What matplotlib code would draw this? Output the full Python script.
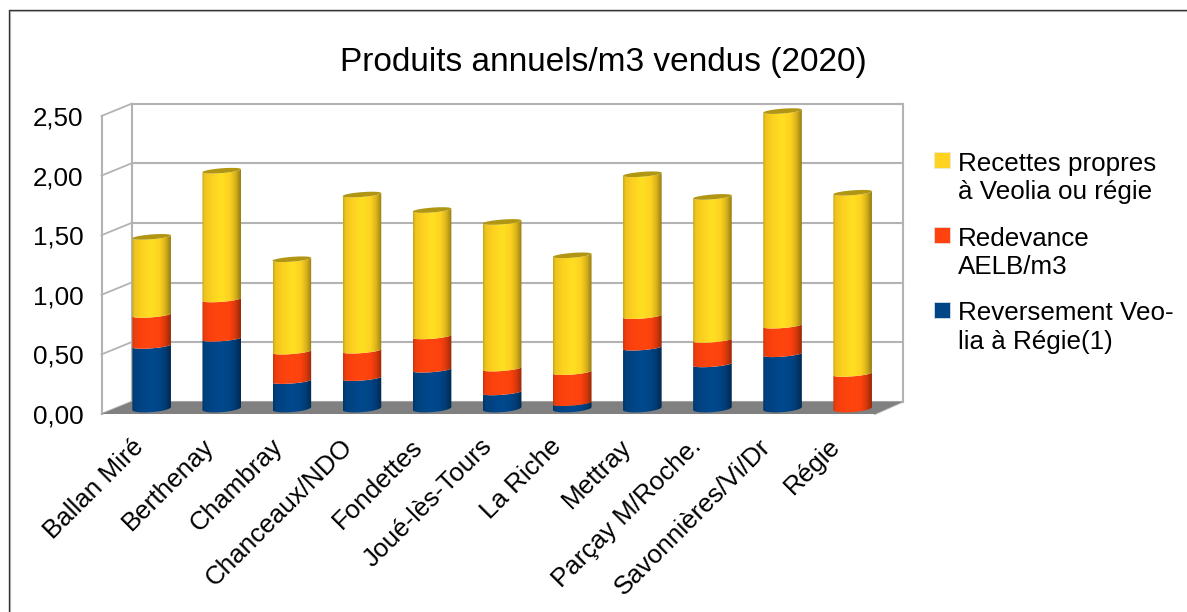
import numpy as np
import matplotlib
matplotlib.use("Agg")
import matplotlib.pyplot as plt
from matplotlib.colors import LinearSegmentedColormap
from matplotlib.patches import Rectangle, Polygon
from matplotlib.transforms import Affine2D

plt.rcParams['font.family'] = ['Liberation Sans', 'DejaVu Sans']

title = "Produits annuels/m3 vendus (2020)"
categories = ["Ballan Miré", "Berthenay", "Chambray", "Chanceaux/NDO", "Fondettes",
              "Joué-lès-Tours", "La Riche", "Mettray", "Parçay M/Roche.",
              "Savonnières/Vi/Dr", "Régie"]
reversement = [0.525, 0.585, 0.23, 0.255, 0.325, 0.135, 0.045, 0.51, 0.37, 0.455, 0.00]
redevance = [0.26, 0.33, 0.247, 0.23, 0.28, 0.20, 0.26, 0.265, 0.205, 0.24, 0.29]
recettes = [0.655, 1.08, 0.775, 1.31, 1.06, 1.23, 0.98, 1.19, 1.20, 1.80, 1.52]
y_ticks = [0.0, 0.5, 1.0, 1.5, 2.0, 2.5]
y_labels = ["0,00", "0,50", "1,00", "1,50", "2,00", "2,50"]
legend_entries = [("Recettes propres\nà Veolia ou régie", "#ffd320"),
                  ("Redevance\nAELB/m3", "#ff420e"),
                  ("Reversement Veo-\nlia à Régie(1)", "#004586")]

W, H = 1187, 612
FS = 18.7
fig = plt.figure(figsize=(W / 100, H / 100), dpi=100)
fig.patch.set_facecolor("white")

ov = fig.add_axes([0, 0, 1, 1], zorder=0)
ov.set_xlim(0, W); ov.set_ylim(H, 0); ov.axis("off")
ov.plot([9.8, 9.8, W + 2], [H + 2, 10.8, 10.8], color="#c8c8c8", lw=0.8, clip_on=False)
ov.plot([8.5, 8.5, W + 2], [H + 2, 9.5, 9.5], color="#333333", lw=1.0, clip_on=False)

X0, X1, Y0, Y1 = 116.6, 887.7, 414.0, 116.0
ax = fig.add_axes([X0 / W, 1 - Y0 / H, (X1 - X0) / W, (Y0 - Y1) / H], zorder=1)
ax.patch.set_alpha(0)
n = len(categories)
ax.set_xlim(-0.5, n - 0.5)
ax.set_ylim(0, 2.5)
for s in ax.spines.values():
    s.set_visible(False)
ax.set_yticks(y_ticks, y_labels, fontsize=FS)
ax.set_xticks(range(n), categories, fontsize=FS, rotation=45, ha="right", rotation_mode="anchor")
ax.tick_params(axis="y", length=0, pad=24)
ax.tick_params(axis="x", length=0, pad=16)
fig.canvas.draw()
for i, lab in enumerate(ax.get_xticklabels()):
    lab.set_transform(lab.get_transform() + Affine2D().translate(-20 - 0.45 * i, 2))

back_t = ax.transData + Affine2D().translate(15.0, 12.3)
front_left = ax.transData + Affine2D().translate(-15.1, 0)
mid_t = ax.transData + Affine2D().translate(0, 5.5)

grid = "#b3b3b3"
xl, xr = -0.5, n - 0.5
floor = Polygon([(xl - 15.1 / 70.1, 0), (xr - 12.7 / 70.1, 0), (xr + 15 / 70.1, 12.3 / 119.2),
                 (xl + 15 / 70.1, 12.3 / 119.2)],
                closed=True, transform=ax.transData, facecolor="#808080", edgecolor="none", zorder=1,
                clip_on=False)
ax.add_patch(floor)
for v in y_ticks:
    ax.plot([xl, xr], [v, v], transform=back_t, color=grid, lw=1.5, zorder=0.8, clip_on=False)
    ax.plot([xl - 15.1 / 70.1, xl + 15 / 70.1], [v, v + 12.3 / 119.2], transform=ax.transData,
            color=grid, lw=1.3, zorder=0.8, clip_on=False)
ax.plot([xr - 12.7 / 70.1, xr + 15 / 70.1], [0, 12.3 / 119.2], transform=ax.transData, color=grid, lw=1.3,
        zorder=0.8, clip_on=False)
ax.plot([xl, xl], [0, 2.5], transform=back_t, color=grid, lw=1.5, zorder=0.8, clip_on=False)
ax.plot([xr, xr], [0, 2.5], transform=back_t, color=grid, lw=1.5, zorder=0.8, clip_on=False)
ax.plot([xl, xl], [0, 2.5], transform=front_left, color=grid, lw=1.5, zorder=0.8, clip_on=False)


def shade(c):
    c = np.array(matplotlib.colors.to_rgb(c))
    return LinearSegmentedColormap.from_list(
        "s", [(0, c * 0.78), (0.06, c * 0.93), (0.25, c * 0.99), (0.5, np.minimum(c * 1.06, 1)),
              (0.72, c * 0.99), (0.86, c * 0.85), (0.96, c * 0.66), (1, c * 0.6)])


grad = np.linspace(0, 1, 128).reshape(1, -1)
HW = 19.3 / 70.1
ER = 2.4 / 119.2
ER_BASE = 3.6 / 119.2
TILT = 1.5 / 119.2
th = np.linspace(0, np.pi, 40)


def arc(xc, v, er):
    u = -np.cos(th)
    return xc + HW * u, v - er * np.sin(th) + TILT * u


def draw_seg(xc, v0, v1, color, z):
    bx, by = arc(xc, v0, ER_BASE if v0 == 0 else ER)
    tx, ty = arc(xc, v1, ER)
    verts = list(zip(bx, by)) + list(zip(tx[::-1], ty[::-1]))
    im = ax.imshow(grad, extent=(xc - HW, xc + HW, v0 - 0.1, v1 + 0.1), cmap=shade(color), vmin=0, vmax=1,
                   aspect="auto", transform=mid_t, zorder=z, interpolation="bilinear")
    clip = Polygon(verts, closed=True, transform=mid_t, facecolor="none", edgecolor="none")
    ax.add_patch(clip)
    im.set_clip_path(clip)
    im.set_clip_box(fig.bbox)


for i in range(n):
    z = 2 + i * 0.01
    if reversement[i] > 0:
        draw_seg(i, 0.0, reversement[i], "#004586", z)
    b = reversement[i]
    draw_seg(i, b, b + redevance[i], "#ff420e", z + 0.002)
    b += redevance[i]
    t = b + recettes[i]
    draw_seg(i, b, t, "#ffd320", z + 0.004)
    a_ = np.linspace(0, 2 * np.pi, 60)
    u, w = np.cos(a_), np.sin(a_)
    cap = Polygon(list(zip(i + HW * u, t + ER * w + TILT * u)), closed=True, transform=mid_t,
                  facecolor="#b09612", edgecolor="none", zorder=z + 0.006, clip_on=False)
    ax.add_patch(cap)
ax.set_xlim(-0.5, n - 0.5)
ax.set_ylim(0, 2.5)

ov.text(603, 63, title, fontsize=24, ha="center", va="center", color="black")
ly = [152, 227, 302]
for (txt, col), y in zip(legend_entries, ly):
    ov.add_patch(Rectangle((934, y), 16, 16, facecolor=col, edgecolor="#e8e8e8", lw=0.5))
    a, b2 = txt.split("\n")
    ov.text(958, y + 11.5, a, fontsize=FS, ha="left", va="center")
    ov.text(958, y + 40.5, b2, fontsize=FS, ha="left", va="center")

fig.savefig("out.png", dpi=100)
